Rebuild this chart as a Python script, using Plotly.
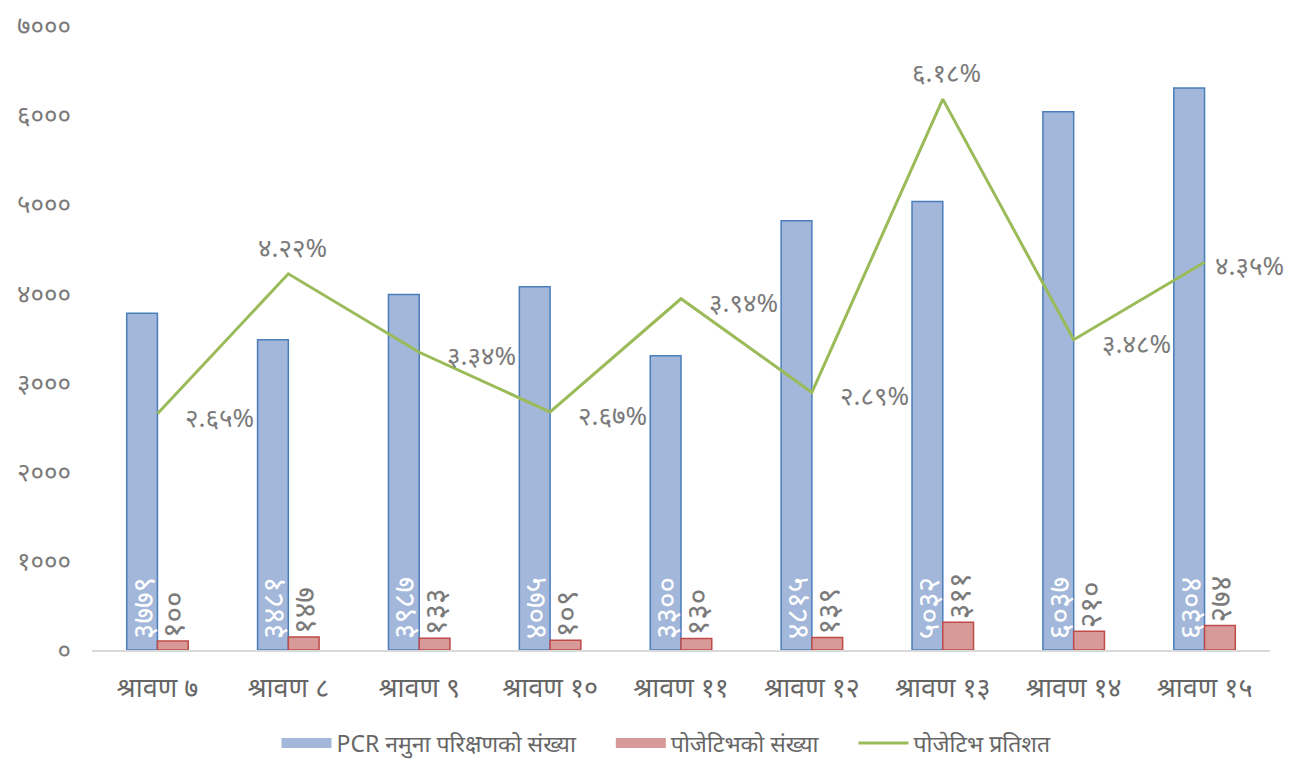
import plotly.graph_objects as go

categories = ["श्रावण ७", "श्रावण ८", "श्रावण ९", "श्रावण १०", "श्रावण ११",
              "श्रावण १२", "श्रावण १३", "श्रावण १४", "श्रावण १५"]
tests = [3779, 3481, 3987, 4075, 3300, 4815, 5032, 6037, 6304]
positives = [100, 147, 133, 109, 130, 139, 311, 210, 274]
pct = [2.65, 4.22, 3.34, 2.67, 3.94, 2.89, 6.18, 3.48, 4.35]
y_ticks = [0, 1000, 2000, 3000, 4000, 5000, 6000, 7000]
series_names = ["PCR नमुना परिक्षणको संख्या", "पोजेटिभको संख्या", "पोजेटिभ प्रतिशत"]

DEV = str.maketrans("0123456789", "०१२३४५६७८९")
def dev(s):
    return str(s).translate(DEV)

FONT = "Noto Sans, sans-serif"
GRAY = "#666666"
LGRAY = "#7a7a7a"
BLUE_FILL, BLUE_LINE = "#a2b7da", "#4a7ebb"
RED_FILL, RED_LINE = "#d89a98", "#be4b48"
GREEN = "#9bbb59"

x = list(range(len(categories)))

fig = go.Figure()
fig.add_trace(go.Bar(
    x=x, y=tests, name=series_names[0], showlegend=False,
    marker=dict(color=BLUE_FILL, line=dict(color=BLUE_LINE, width=1.5)),
    text=["\u00a0" + dev(v) for v in tests], textposition="inside", insidetextanchor="start",
    textangle=-90, constraintext="none",
    textfont=dict(color="white", size=30, family=FONT),
    cliponaxis=False,
))
fig.add_trace(go.Bar(
    x=x, y=positives, name=series_names[1], showlegend=False,
    marker=dict(color=RED_FILL, line=dict(color=RED_LINE, width=1.5)),
    text=[dev(v) for v in positives], textposition="outside",
    textangle=-90, constraintext="none",
    textfont=dict(color=LGRAY, size=30, family=FONT),
    cliponaxis=False,
))
fig.add_trace(go.Scatter(
    x=x, y=pct, name=series_names[2], yaxis="y2", mode="lines", showlegend=False,
    line=dict(color=GREEN, width=3),
    cliponaxis=False,
))

# legend entries (wide swatches like the original)
pad = "\u00a0" * 5
for nm, col, w in [(series_names[0], BLUE_FILL, 13), (series_names[1], RED_FILL, 13),
                   (series_names[2], GREEN, 3)]:
    fig.add_trace(go.Scatter(x=[None], y=[None], mode="lines", name=nm + pad,
                             line=dict(color=col, width=w), showlegend=True))

# percentage labels
above = [False, True, False, False, False, False, True, False, False]
for i, v in enumerate(pct):
    if above[i]:
        fig.add_annotation(x=x[i], y=v, xref="x", yref="y2", text=dev(f"{v:.2f}") + "%",
                           showarrow=False, xanchor="center", yanchor="middle",
                           xshift=4, yshift=27,
                           font=dict(color=LGRAY, size=26, family=FONT))
    else:
        fig.add_annotation(x=x[i], y=v, xref="x", yref="y2", text=dev(f"{v:.2f}") + "%",
                           showarrow=False, xanchor="left", yanchor="middle",
                           xshift=8 if i == len(pct) - 1 else 26, yshift=-3,
                           font=dict(color=LGRAY, size=26, family=FONT))

fig.update_layout(
    width=1284, height=755,
    margin=dict(l=84, r=22, t=18, b=113, autoexpand=False),
    paper_bgcolor="white", plot_bgcolor="white",
    barmode="group", bargap=0.53, bargroupgap=0,
    font=dict(family=FONT, color=GRAY),
    xaxis=dict(tickmode="array", tickvals=x, ticktext=categories,
               range=[-0.5, len(categories) - 0.5],
               showline=True, linecolor="#d9d9d9", linewidth=1.5,
               showgrid=False, ticks="", ticklabelstandoff=13,
               tickfont=dict(size=27, color=GRAY)),
    yaxis=dict(range=[0, 7000], tickvals=y_ticks, ticktext=[dev(v) for v in y_ticks],
               showgrid=False, zeroline=False, showline=False, ticks="",
               ticklabelstandoff=20, ticklabeloverflow="allow",
               tickfont=dict(size=26, color=LGRAY)),
    yaxis2=dict(range=[0, 7], overlaying="y", visible=False),
    legend=dict(orientation="h", x=0.5, xanchor="center", y=-0.149, yanchor="middle",
                font=dict(size=23, color=GRAY), itemwidth=50, tracegroupgap=0),
)

fig.write_html("out.html")
